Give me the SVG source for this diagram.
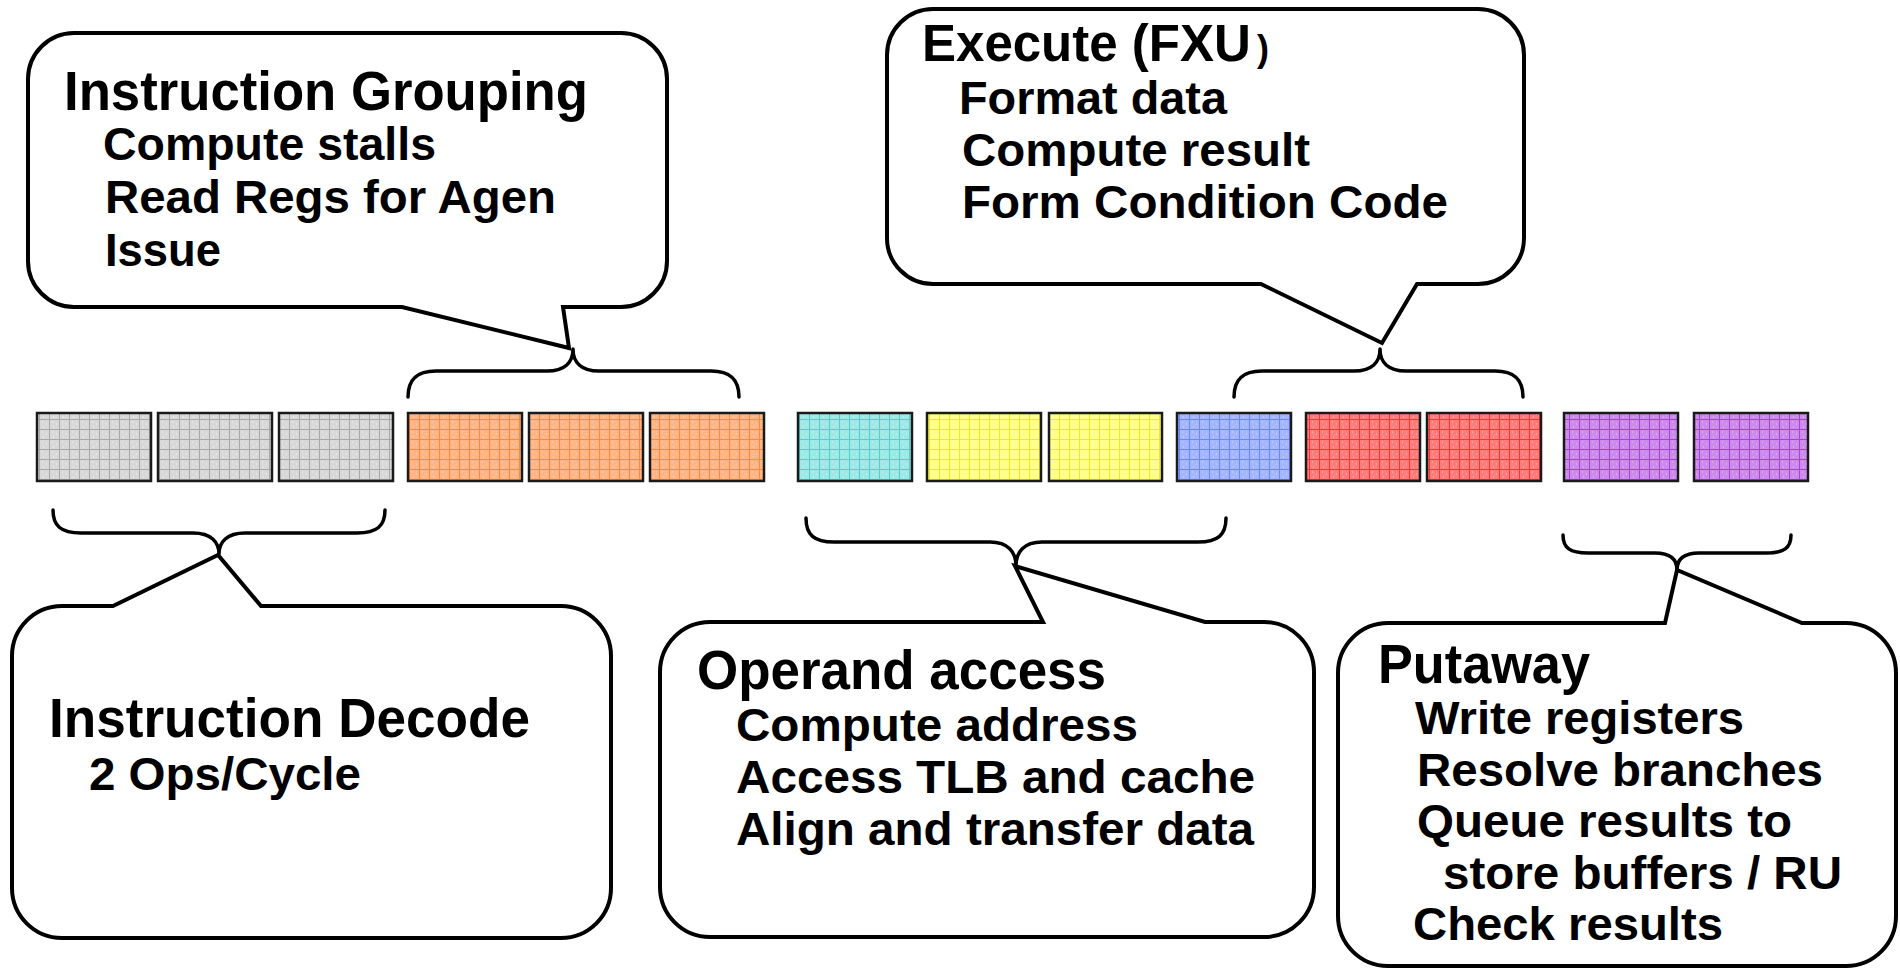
<svg xmlns="http://www.w3.org/2000/svg" width="1900" height="969" viewBox="0 0 1900 969">
<style>
.bub{fill:#fff;stroke:#000;stroke-width:4;stroke-linejoin:miter}
.brace{fill:none;stroke:#000;stroke-width:3.5;stroke-linecap:round;stroke-linejoin:round}
.t{font-family:"Liberation Sans",Arial,Helvetica,sans-serif;font-weight:bold;fill:#000}
.h{font-size:55px}
.s{font-size:46px}
.box{stroke:#1a1a1a;stroke-width:2.5}
</style>
<defs>
<pattern id="pGray" width="10" height="10" patternUnits="userSpaceOnUse">
<rect width="10" height="10" fill="#d8d8d8"/>
<path d="M0,9.5H10M9.5,0V10" stroke="#a8a8a8" stroke-width="1"/>
<path d="M2,2h1M6,4h1M3,7h1" stroke="#f4f4f4" stroke-width="1"/>
</pattern>
<pattern id="pOrange" width="10" height="10" patternUnits="userSpaceOnUse">
<rect width="10" height="10" fill="#ffb585"/>
<path d="M0,9.5H10M9.5,0V10" stroke="#ff8a3d" stroke-width="1"/>
<path d="M2,2h1M6,4h1M3,7h1" stroke="#ffd8bd" stroke-width="1"/>
</pattern>
<pattern id="pCyan" width="10" height="10" patternUnits="userSpaceOnUse">
<rect width="10" height="10" fill="#9ee8e6"/>
<path d="M0,9.5H10M9.5,0V10" stroke="#55cfcc" stroke-width="1"/>
<path d="M2,2h1M6,4h1M3,7h1" stroke="#d0f6f5" stroke-width="1"/>
</pattern>
<pattern id="pYellow" width="10" height="10" patternUnits="userSpaceOnUse">
<rect width="10" height="10" fill="#ffff8a"/>
<path d="M0,9.5H10M9.5,0V10" stroke="#ecec20" stroke-width="1"/>
<path d="M2,2h1M6,4h1M3,7h1" stroke="#ffffc8" stroke-width="1"/>
</pattern>
<pattern id="pBlue" width="10" height="10" patternUnits="userSpaceOnUse">
<rect width="10" height="10" fill="#a3b6ff"/>
<path d="M0,9.5H10M9.5,0V10" stroke="#6d88ff" stroke-width="1"/>
<path d="M2,2h1M6,4h1M3,7h1" stroke="#d2dcff" stroke-width="1"/>
</pattern>
<pattern id="pRed" width="10" height="10" patternUnits="userSpaceOnUse">
<rect width="10" height="10" fill="#ff7c7c"/>
<path d="M0,9.5H10M9.5,0V10" stroke="#ff3434" stroke-width="1"/>
<path d="M2,2h1M6,4h1M3,7h1" stroke="#ffc0c0" stroke-width="1"/>
</pattern>
<pattern id="pPurple" width="10" height="10" patternUnits="userSpaceOnUse">
<rect width="10" height="10" fill="#cc8aea"/>
<path d="M0,9.5H10M9.5,0V10" stroke="#a545d6" stroke-width="1"/>
<path d="M2,2h1M6,4h1M3,7h1" stroke="#e6c4f5" stroke-width="1"/>
</pattern>
</defs>
<rect width="1900" height="969" fill="#fff"/>

<g id="stage-boxes">
<g id="box-decode-1"><rect class="box" x="37" y="413" width="114" height="68" fill="url(#pGray)"/></g>
<g id="box-decode-2"><rect class="box" x="158" y="413" width="114" height="68" fill="url(#pGray)"/></g>
<g id="box-decode-3"><rect class="box" x="279" y="413" width="114" height="68" fill="url(#pGray)"/></g>
<g id="box-group-1"><rect class="box" x="408" y="413" width="114" height="68" fill="url(#pOrange)"/></g>
<g id="box-group-2"><rect class="box" x="529" y="413" width="114" height="68" fill="url(#pOrange)"/></g>
<g id="box-group-3"><rect class="box" x="650" y="413" width="114" height="68" fill="url(#pOrange)"/></g>
<g id="box-agen"><rect class="box" x="798" y="413" width="114" height="68" fill="url(#pCyan)"/></g>
<g id="box-cache-1"><rect class="box" x="927" y="413" width="114" height="68" fill="url(#pYellow)"/></g>
<g id="box-cache-2"><rect class="box" x="1049" y="413" width="113" height="68" fill="url(#pYellow)"/></g>
<g id="box-xfer"><rect class="box" x="1177" y="413" width="114" height="68" fill="url(#pBlue)"/></g>
<g id="box-exec-1"><rect class="box" x="1306" y="413" width="114" height="68" fill="url(#pRed)"/></g>
<g id="box-exec-2"><rect class="box" x="1427" y="413" width="114" height="68" fill="url(#pRed)"/></g>
<g id="box-put-1"><rect class="box" x="1564" y="413" width="114" height="68" fill="url(#pPurple)"/></g>
<g id="box-put-2"><rect class="box" x="1694" y="413" width="114" height="68" fill="url(#pPurple)"/></g>
</g>

<g id="connectors">
<path class="brace" d="M408,397 C408,380 416,371 436,371 H547 C565,371 573,362 573,349 C573,362 581,371 599,371 H711 C731,371 739,380 739,397"/>
<path class="brace" d="M1234,397 C1234,380 1242,371 1262,371 H1354 C1372,371 1380,362 1380,349 C1380,362 1388,371 1406,371 H1495 C1515,371 1523,380 1523,397"/>
<path class="brace" d="M53,510 C53,526 61,533 81,533 H193 C211,533 219,542 219,554 C219,542 227,533 245,533 H357 C377,533 385,526 385,510"/>
<path class="brace" d="M806,518 C806,535 814,542 834,542 H990 C1008,542 1016,552 1016,566 C1016,552 1024,542 1042,542 H1198 C1218,542 1226,535 1226,518"/>
<path class="brace" d="M1563,535 C1563,548 1570,553 1588,553 H1655 C1671,553 1677,560 1677,570 C1677,560 1683,553 1699,553 H1766 C1784,553 1791,548 1791,535"/>
</g>

<g id="callout-grouping">
<path class="bub" d="M74,33 H621 A46,46 0 0 1 667,79 V261 A46,46 0 0 1 621,307 H563 L569,348 L402,307 H74 A46,46 0 0 1 28,261 V79 A46,46 0 0 1 74,33 Z"/>
<text class="t h" x="64" y="110" textLength="524" lengthAdjust="spacingAndGlyphs">Instruction Grouping</text>
<text class="t s" x="103" y="160" textLength="333" lengthAdjust="spacingAndGlyphs">Compute stalls</text>
<text class="t s" x="105" y="213" textLength="451" lengthAdjust="spacingAndGlyphs">Read Regs for Agen</text>
<text class="t s" x="105" y="266" textLength="116" lengthAdjust="spacingAndGlyphs">Issue</text>
</g>

<g id="callout-execute">
<path class="bub" d="M933,9 H1478 A46,46 0 0 1 1524,55 V238 A46,46 0 0 1 1478,284 H1417 L1382,343 L1261,284 H933 A46,46 0 0 1 887,238 V55 A46,46 0 0 1 933,9 Z"/>
<text class="t" x="922" y="61" font-size="51">Execute (FXU</text>
<text class="t" x="1257" y="61" font-size="36">)</text>
<text class="t s" x="959" y="114" textLength="268" lengthAdjust="spacingAndGlyphs">Format data</text>
<text class="t s" x="962" y="166" textLength="348" lengthAdjust="spacingAndGlyphs">Compute result</text>
<text class="t s" x="962" y="218" textLength="486" lengthAdjust="spacingAndGlyphs">Form Condition Code</text>
</g>

<g id="callout-decode">
<path class="bub" d="M62,606 H113 L218,555 L261,606 H561 A50,50 0 0 1 611,656 V888 A50,50 0 0 1 561,938 H62 A50,50 0 0 1 12,888 V656 A50,50 0 0 1 62,606 Z"/>
<text class="t h" x="49" y="737" textLength="481" lengthAdjust="spacingAndGlyphs">Instruction Decode</text>
<text class="t s" x="89" y="790" textLength="272" lengthAdjust="spacingAndGlyphs">2 Ops/Cycle</text>
</g>

<g id="callout-operand">
<path class="bub" d="M710,622 H1043 L1015,566 L1205,622 H1264 A50,50 0 0 1 1314,672 V887 A50,50 0 0 1 1264,937 H710 A50,50 0 0 1 660,887 V672 A50,50 0 0 1 710,622 Z"/>
<text class="t h" x="697" y="689" textLength="409" lengthAdjust="spacingAndGlyphs">Operand access</text>
<text class="t s" x="736" y="741" textLength="402" lengthAdjust="spacingAndGlyphs">Compute address</text>
<text class="t s" x="736" y="793" textLength="519" lengthAdjust="spacingAndGlyphs">Access TLB and cache</text>
<text class="t s" x="736" y="845" textLength="518" lengthAdjust="spacingAndGlyphs">Align and transfer data</text>
</g>

<g id="callout-putaway">
<path class="bub" d="M1388,623 H1665 L1677,570 L1802,623 H1846 A50,50 0 0 1 1896,673 V916 A50,50 0 0 1 1846,966 H1388 A50,50 0 0 1 1338,916 V673 A50,50 0 0 1 1388,623 Z"/>
<text class="t h" x="1378" y="683" textLength="212" lengthAdjust="spacingAndGlyphs">Putaway</text>
<text class="t s" x="1415" y="734" textLength="329" lengthAdjust="spacingAndGlyphs">Write registers</text>
<text class="t s" x="1417" y="786" textLength="406" lengthAdjust="spacingAndGlyphs">Resolve branches</text>
<text class="t s" x="1417" y="837" textLength="375" lengthAdjust="spacingAndGlyphs">Queue results to</text>
<text class="t s" x="1443" y="889" textLength="399" lengthAdjust="spacingAndGlyphs">store buffers / RU</text>
<text class="t s" x="1413" y="940" textLength="310" lengthAdjust="spacingAndGlyphs">Check results</text>
</g>
</svg>
